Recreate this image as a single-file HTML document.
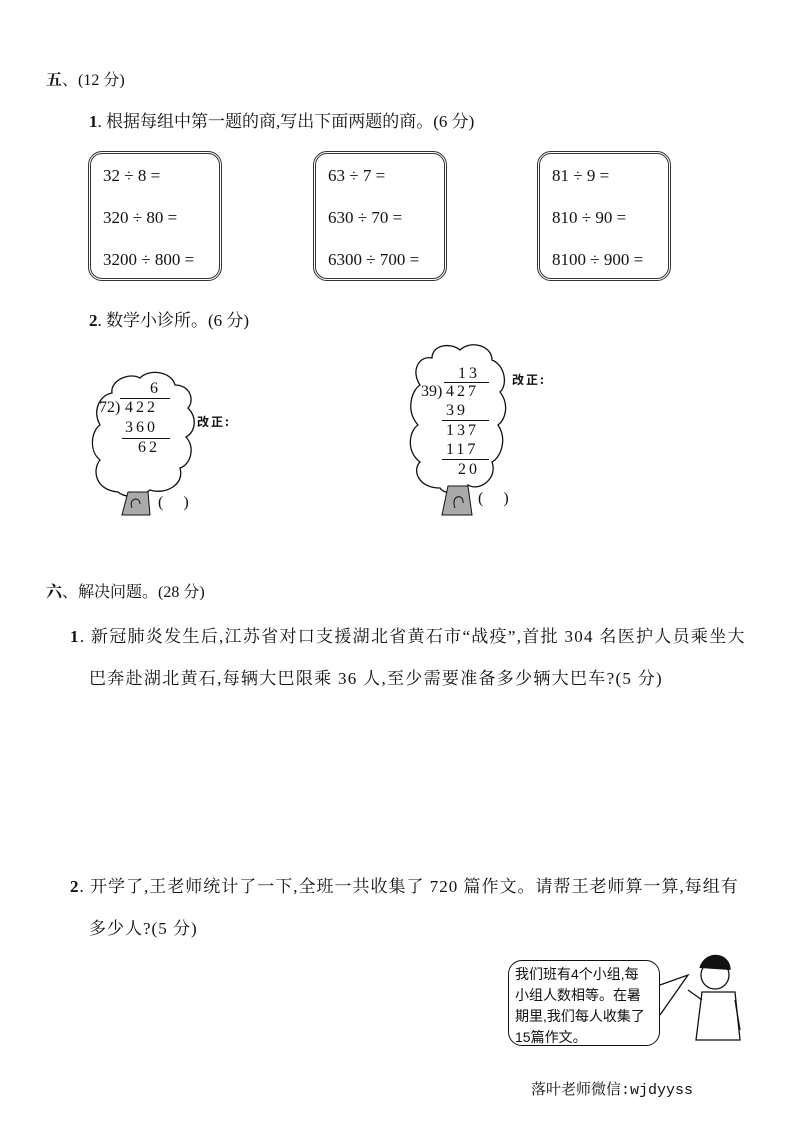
<!DOCTYPE html>
<html><head><meta charset="utf-8"><style>
body{margin:0;width:793px;height:1122px;background:#fff;position:relative;font-family:"Liberation Serif","Noto Serif CJK SC",serif;color:#111;overflow:hidden}
.t{position:absolute;white-space:nowrap;font-size:16px}
.box{position:absolute;border:3px double #333;border-radius:14px;width:128px;height:124px}
.box div{position:absolute;left:12px;font-size:17px;white-space:nowrap}
.d{position:absolute;font-size:16px;letter-spacing:3px;white-space:nowrap}
.ln{position:absolute;border-top:1px solid #111;height:0}
.bub{position:absolute;left:508px;top:960px;width:152px;height:86px;border:1.5px solid #111;border-radius:14px;font-family:"Liberation Sans","Noto Sans CJK SC",sans-serif;font-size:14px;line-height:21px;padding:3px 0 0 6px;box-sizing:border-box}
</style></head><body>
<div class="t" style="left:46px;top:67px;font-size:16px"><b>五</b>、(12 分)</div>
<div class="t" style="left:89px;top:107px;font-size:17px"><b>1</b>. 根据每组中第一题的商,写出下面两题的商。(6 分)</div>

<div class="box" style="left:88px;top:151px"><div style="top:12px">32 ÷ 8 =</div><div style="top:54px">320 ÷ 80 =</div><div style="top:96px">3200 ÷ 800 =</div></div>
<div class="box" style="left:313px;top:151px"><div style="top:12px">63 ÷ 7 =</div><div style="top:54px">630 ÷ 70 =</div><div style="top:96px">6300 ÷ 700 =</div></div>
<div class="box" style="left:537px;top:151px"><div style="top:12px">81 ÷ 9 =</div><div style="top:54px">810 ÷ 90 =</div><div style="top:96px">8100 ÷ 900 =</div></div>

<div class="t" style="left:89px;top:306px;font-size:17px"><b>2</b>. 数学小诊所。(6 分)</div>

<svg style="position:absolute;left:0;top:0" width="793" height="1122">
<g fill="none" stroke="#111" stroke-width="1.3">
<path d="M118,492 C95,490 92,470 100,460 C88,450 92,430 100,425 C92,410 100,395 112,393 C110,380 130,372 140,378 C150,368 172,372 175,385 C190,385 195,400 188,408 C198,418 195,432 186,437 C196,448 190,465 180,468 C185,485 165,495 150,490 C140,498 125,498 118,492 Z"/>
<path d="M440,488 C418,488 412,470 420,462 C405,450 410,430 418,425 C405,410 412,390 420,385 C410,370 420,355 432,358 C432,345 450,342 460,350 C470,340 492,345 492,360 C505,365 508,385 500,392 C510,405 505,420 498,425 C508,440 500,458 492,462 C498,478 480,492 468,485 C460,495 445,495 440,488 Z"/>
</g>
<path d="M128,492 L148,492 L150,515 L122,515 Z" fill="#aaa" stroke="#111"/>
<path d="M448,486 L468,486 L472,515 L442,515 Z" fill="#aaa" stroke="#111"/>
<path d="M132,508 C128,498 140,496 140,504 M455,508 C450,495 464,493 463,503" fill="none" stroke="#111"/>
<path d="M660,985 L688,975 L660,1015" fill="#fff" stroke="#111" stroke-width="1.3"/>
<g fill="none" stroke="#111" stroke-width="1.3">
<circle cx="715" cy="975" r="14"/>
<path d="M700,968 C705,950 730,952 730,970" fill="#111"/>
<path d="M702,992 L696,1040 L740,1040 L735,992 Z"/>
<path d="M702,1000 L688,990 M735,1000 L740,1030"/>
</g>
</svg>

<div class="d" style="left:150px;top:380px">6</div>
<div class="ln" style="left:120px;top:398px;width:50px"></div>
<div class="d" style="left:99px;top:399px;letter-spacing:0">72)</div>
<div class="d" style="left:125px;top:399px">422</div>
<div class="d" style="left:125px;top:419px">360</div>
<div class="ln" style="left:122px;top:438px;width:48px"></div>
<div class="d" style="left:138px;top:439px">62</div>
<div class="t" style="left:197px;top:413px;font-size:12px;font-weight:bold;letter-spacing:2px;font-family:'Noto Sans CJK SC',sans-serif">改正:</div>
<div class="t" style="left:158px;top:494px">(&nbsp;&nbsp;&nbsp;&nbsp;&nbsp;)</div>

<div class="d" style="left:458px;top:365px">13</div>
<div class="ln" style="left:444px;top:382px;width:45px"></div>
<div class="d" style="left:421px;top:383px;letter-spacing:0">39)</div>
<div class="d" style="left:446px;top:383px">427</div>
<div class="d" style="left:446px;top:402px">39</div>
<div class="ln" style="left:442px;top:420px;width:47px"></div>
<div class="d" style="left:446px;top:422px">137</div>
<div class="d" style="left:446px;top:441px">117</div>
<div class="ln" style="left:442px;top:459px;width:47px"></div>
<div class="d" style="left:458px;top:461px">20</div>
<div class="t" style="left:512px;top:371px;font-size:12px;font-weight:bold;letter-spacing:2px;font-family:'Noto Sans CJK SC',sans-serif">改正:</div>
<div class="t" style="left:478px;top:490px">(&nbsp;&nbsp;&nbsp;&nbsp;&nbsp;)</div>

<div class="t" style="left:46px;top:579px;font-size:16px"><b>六</b>、解决问题。(28 分)</div>
<div class="t" style="left:70px;top:622px;font-size:17px;letter-spacing:1.3px"><b>1</b>. 新冠肺炎发生后,江苏省对口支援湖北省黄石市“战疫”,首批 304 名医护人员乘坐大</div>
<div class="t" style="left:89px;top:664px;font-size:17px;letter-spacing:1.3px">巴奔赴湖北黄石,每辆大巴限乘 36 人,至少需要准备多少辆大巴车?(5 分)</div>
<div class="t" style="left:70px;top:872px;font-size:17px;letter-spacing:1px"><b>2</b>. 开学了,王老师统计了一下,全班一共收集了 720 篇作文。请帮王老师算一算,每组有</div>
<div class="t" style="left:89px;top:914px;font-size:17px;letter-spacing:1px">多少人?(5 分)</div>

<div class="bub">我们班有4个小组,每<br>小组人数相等。在暑<br>期里,我们每人收集了<br>15篇作文。</div>
<div class="t" style="left:531px;top:1078px;font-size:15px;font-family:'Liberation Mono','Noto Serif CJK SC',monospace">落叶老师微信:wjdyyss</div>
</body></html>
